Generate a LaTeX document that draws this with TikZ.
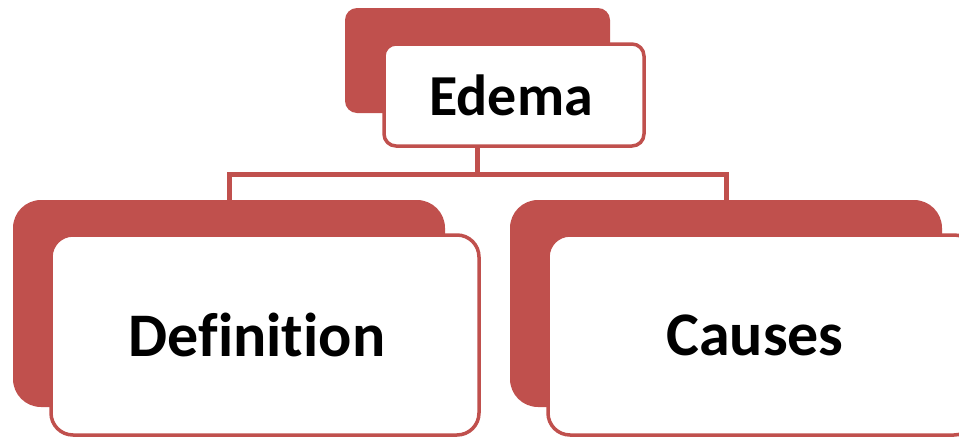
\documentclass[tikz,border=0pt]{standalone}
\usepackage{fontspec}
\setmainfont[Ligatures=NoCommon]{Carlito}
\definecolor{acc}{HTML}{C0504D}
\begin{document}
\begin{tikzpicture}[x=1pt,y=-1pt,
  backbox/.style={draw=none,fill=acc,rounded corners=#1,inner sep=0pt,anchor=center},
  frontbox/.style={draw=acc,line width=3.5pt,fill=white,rounded corners=#1,inner sep=0pt,anchor=center},
  conn/.style={draw=acc,line width=5pt},
  bigtext/.style={font=\fontsize{62}{70}\selectfont\bfseries},
  toptext/.style={font=\fontsize{58}{66}\selectfont\bfseries}]
\useasboundingbox (0,0) rectangle (959,437);
\clip (0,0) rectangle (959,437);
% back boxes
\node[backbox=12pt,minimum width=265pt,minimum height=105pt] (topback) at (477.5,60.5) {};
\node[backbox=28pt,minimum width=432pt,minimum height=207pt] (lback) at (229,303.5) {};
\node[backbox=28pt,minimum width=432pt,minimum height=207pt] (rback) at (726,303.5) {};
% connectors
\coordinate (j) at (477.5,174);
\draw[conn] (topback.south) -- (j);
\draw[conn] (lback.north) -- (lback.north |- j) -- (rback.north |- j) -- (rback.north);
% front boxes
\node[frontbox=12pt,minimum width=260pt,minimum height=102pt] (top) at (514,95) {};
\node[frontbox=22pt,minimum width=428pt,minimum height=200pt] (lfront) at (265,335) {};
\node[frontbox=22pt,minimum width=428pt,minimum height=200pt] (rfront) at (762,335) {};
% texts
\node[toptext] (toplabel) at (511,95) {Edema};
\node[bigtext] (ldef) at (257,335) {Definition};
\node[bigtext] (rcause) at (755,335) {Causes};
\end{tikzpicture}
\end{document}
